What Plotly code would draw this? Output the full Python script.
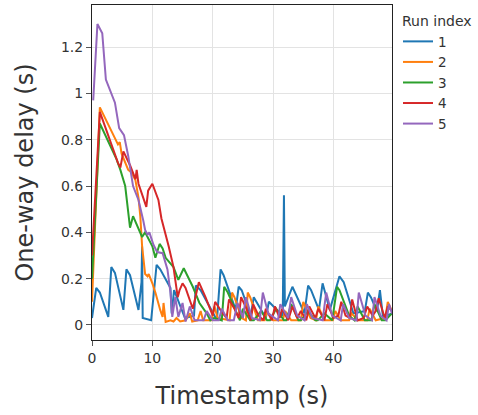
import plotly.graph_objects as go

# Run 1
t1 = [0.0, 0.7, 1.3, 2.7, 3.2, 3.8, 5.2, 5.7, 6.3, 7.7, 8.2, 8.3, 8.4, 9.8, 10.7, 11.3, 13.0, 13.2, 13.6, 15.4,
      16.9, 17.2, 18.0, 20.7, 21.3, 21.8, 23.8, 24.3, 24.8, 26.3, 26.8, 28.8, 29.3, 31.6, 31.8, 31.95, 33.2, 33.8,
      35.2, 35.8, 36.3, 37.6, 38.2, 39.4, 41.0, 41.7, 43.3, 45.2, 45.7, 46.2, 47.2, 47.7, 48.2, 49.7]
d1 = [0.03, 0.16, 0.14, 0.035, 0.25, 0.225, 0.065, 0.24, 0.215, 0.065, 0.185, 0.34, 0.03, 0.02, 0.26, 0.24, 0.16,
      0.05, 0.15, 0.03, 0.04, 0.17, 0.15, 0.02, 0.24, 0.215, 0.065, 0.165, 0.15, 0.04, 0.12, 0.03, 0.10, 0.04, 0.56,
      0.08, 0.165, 0.13, 0.05, 0.17, 0.15, 0.065, 0.18, 0.065, 0.21, 0.185, 0.05, 0.06, 0.14, 0.12, 0.06, 0.15,
      0.035, 0.05]
# Run 2
t2 = [0.0, 1.3, 4.3, 4.6, 4.9, 6.0, 6.5, 7.2, 7.7, 8.0, 8.3, 8.8, 9.2, 9.4, 10.0, 10.5, 11.3, 11.7, 11.85, 12.2,
      13.0, 13.5, 14.0, 14.6, 15.5, 16.2, 16.6, 17.5, 18.0, 18.4, 19.8, 20.3, 20.8, 22.8, 23.2, 23.6, 24.8, 25.5,
      25.8, 26.2, 27.5, 28.6, 29.0, 30.0, 31.6, 32.0, 33.0, 34.6, 35.0, 36.2, 37.1, 37.5, 38.5, 39.9, 40.3, 41.2,
      42.6, 43.0, 44.0, 45.6, 46.0, 47.0, 48.6, 49.0, 49.7]
d2 = [0.1, 0.94, 0.78, 0.79, 0.74, 0.67, 0.66, 0.625, 0.55, 0.47, 0.34, 0.22, 0.21, 0.22, 0.18, 0.14, 0.065,
      0.035, 0.095, 0.013, 0.02, 0.015, 0.03, 0.015, 0.02, 0.05, 0.015, 0.02, 0.06, 0.02, 0.02, 0.08, 0.03, 0.02,
      0.14, 0.12, 0.03, 0.02, 0.14, 0.12, 0.02, 0.02, 0.06, 0.02, 0.02, 0.06, 0.02, 0.02, 0.10, 0.03, 0.02, 0.08,
      0.02, 0.02, 0.06, 0.02, 0.02, 0.05, 0.02, 0.02, 0.07, 0.02, 0.03, 0.10, 0.06]
# Run 3
t3 = [0.0, 1.3, 4.0, 4.7, 5.5, 6.0, 6.3, 6.8, 7.7, 8.3, 8.8, 10.0, 10.5, 11.2, 11.7, 12.2, 13.5, 14.3, 15.2, 16.7,
      17.8, 19.0, 19.6, 20.2, 21.5, 21.9, 22.5, 24.0, 24.5, 25.0, 26.2, 26.8, 28.0, 29.0, 29.5, 30.5, 31.8, 32.2,
      33.0, 34.2, 34.6, 35.8, 37.0, 37.4, 38.5, 39.8, 40.6, 41.0, 42.6, 43.5, 44.0, 45.2, 46.3, 46.8, 48.0, 48.6,
      49.7]
d3 = [0.2, 0.87, 0.72, 0.67, 0.6, 0.5, 0.42, 0.47, 0.42, 0.38, 0.40, 0.34, 0.29, 0.35, 0.33, 0.29, 0.25, 0.195,
      0.245, 0.165, 0.095, 0.05, 0.02, 0.03, 0.02, 0.165, 0.14, 0.05, 0.02, 0.07, 0.02, 0.02, 0.06, 0.02, 0.02,
      0.07, 0.02, 0.02, 0.09, 0.02, 0.02, 0.06, 0.02, 0.02, 0.05, 0.02, 0.165, 0.15, 0.04, 0.02, 0.08, 0.02, 0.02,
      0.09, 0.02, 0.02, 0.05]
# Run 4
t4 = [0.0, 1.3, 4.3, 4.7, 5.2, 6.3, 7.2, 7.4, 7.7, 8.5, 9.0, 9.3, 10.0, 11.0, 11.5, 12.7, 13.5, 14.2, 14.5, 15.0,
      15.5, 16.7, 17.7, 18.8, 20.0, 20.4, 21.4, 22.3, 22.7, 23.6, 24.3, 24.7, 25.6, 26.3, 26.7, 27.6, 28.4, 28.8,
      29.8, 30.3, 31.1, 31.5, 32.5, 33.2, 34.0, 34.6, 35.5, 36.0, 37.0, 37.5, 38.5, 39.0, 40.0, 40.8, 41.3, 42.0,
      42.7, 43.1, 44.0, 45.0, 45.6, 46.5, 47.0, 47.5, 48.5, 49.0, 49.7]
d4 = [0.3, 0.92, 0.70, 0.68, 0.75, 0.69, 0.63, 0.67, 0.61, 0.55, 0.51, 0.58, 0.61, 0.54, 0.46, 0.34, 0.25, 0.12,
      0.15, 0.18, 0.16, 0.07, 0.185, 0.12, 0.04, 0.10, 0.06, 0.03, 0.11, 0.07, 0.03, 0.12, 0.07, 0.02, 0.09, 0.04,
      0.02, 0.07, 0.02, 0.08, 0.03, 0.07, 0.02, 0.08, 0.03, 0.06, 0.02, 0.08, 0.03, 0.07, 0.02, 0.09, 0.03, 0.04,
      0.10, 0.04, 0.03, 0.11, 0.02, 0.03, 0.08, 0.04, 0.06, 0.115, 0.03, 0.08, 0.06]
# Run 5
t5 = [0.2, 0.9, 1.7, 2.3, 3.8, 4.5, 5.3, 6.0, 6.8, 7.2, 7.7, 8.5, 8.8, 9.2, 9.5, 10.2, 10.8, 11.7, 12.5, 13.0,
      13.3, 13.8, 14.3, 15.0, 15.5, 16.2, 17.0, 18.5, 19.0, 20.0, 21.0, 21.5, 22.5, 23.5, 24.1, 25.0, 25.5, 26.5,
      27.8, 28.3, 29.2, 30.8, 31.2, 32.5, 33.0, 34.0, 35.2, 35.6, 36.5, 38.2, 38.8, 39.8, 41.2, 41.6, 42.6, 43.8,
      44.2, 45.3, 46.4, 46.8, 47.8, 48.8, 49.2, 49.7]
d5 = [0.97, 1.30, 1.26, 1.06, 0.96, 0.85, 0.82, 0.73, 0.6, 0.57, 0.54, 0.45, 0.41, 0.39, 0.40, 0.345, 0.315, 0.31,
      0.24, 0.14, 0.035, 0.12, 0.035, 0.095, 0.015, 0.08, 0.02, 0.02, 0.06, 0.02, 0.02, 0.07, 0.02, 0.02, 0.095,
      0.03, 0.12, 0.03, 0.02, 0.14, 0.05, 0.02, 0.09, 0.03, 0.12, 0.04, 0.02, 0.09, 0.03, 0.02, 0.14, 0.04, 0.02,
      0.09, 0.03, 0.02, 0.14, 0.04, 0.02, 0.12, 0.04, 0.02, 0.09, 0.05]

run_names = ["1", "2", "3", "4", "5"]
times = [t1, t2, t3, t4, t5]
delays = [d1, d2, d3, d4, d5]
colors = ["#1f77b4", "#ff7f0e", "#2ca02c", "#d62728", "#9467bd"]
legend_title = "Run index"

fig = go.Figure()
for name, t, d, c in zip(run_names, times, delays, colors):
    fig.add_trace(go.Scatter(x=t, y=d, mode="lines", name=name,
                             line=dict(color=c, width=2)))

axis_common = dict(showline=True, linecolor="#222", linewidth=1, mirror=True,
                   ticks="outside", tickcolor="#555", ticklen=5, automargin=False,
                   showgrid=True, gridcolor="#e3e3e3", gridwidth=1, zeroline=False,
                   tickfont=dict(size=14, color="#333"))

fig.update_layout(
    width=478, height=415,
    margin=dict(l=92, r=86, t=5, b=75),
    paper_bgcolor="white", plot_bgcolor="white",
    font=dict(family="Verdana, DejaVu Sans, sans-serif", color="#333", size=14),
    legend=dict(x=1.02, xanchor="left", y=0.937, yanchor="top", font=dict(size=13.5), tracegroupgap=0),
    xaxis=dict(title=dict(text="Timestamp (s)", font=dict(size=24), standoff=22),
               range=[0, 49.7], tickvals=[0, 10, 20, 30, 40], **axis_common),
    yaxis=dict(title=dict(text="One-way delay (s)", font=dict(size=24), standoff=20),
               range=[-0.065, 1.382], tickvals=[0, 0.2, 0.4, 0.6, 0.8, 1, 1.2], **axis_common),
    annotations=[dict(text=legend_title, xref="paper", yref="paper", x=1.027, y=0.952,
                      xanchor="left", yanchor="middle", showarrow=False,
                      font=dict(size=14, color="#333"))],
)

fig.write_html("out.html", config={"displayModeBar": False},
               post_script="document.body.style.margin='0';")
